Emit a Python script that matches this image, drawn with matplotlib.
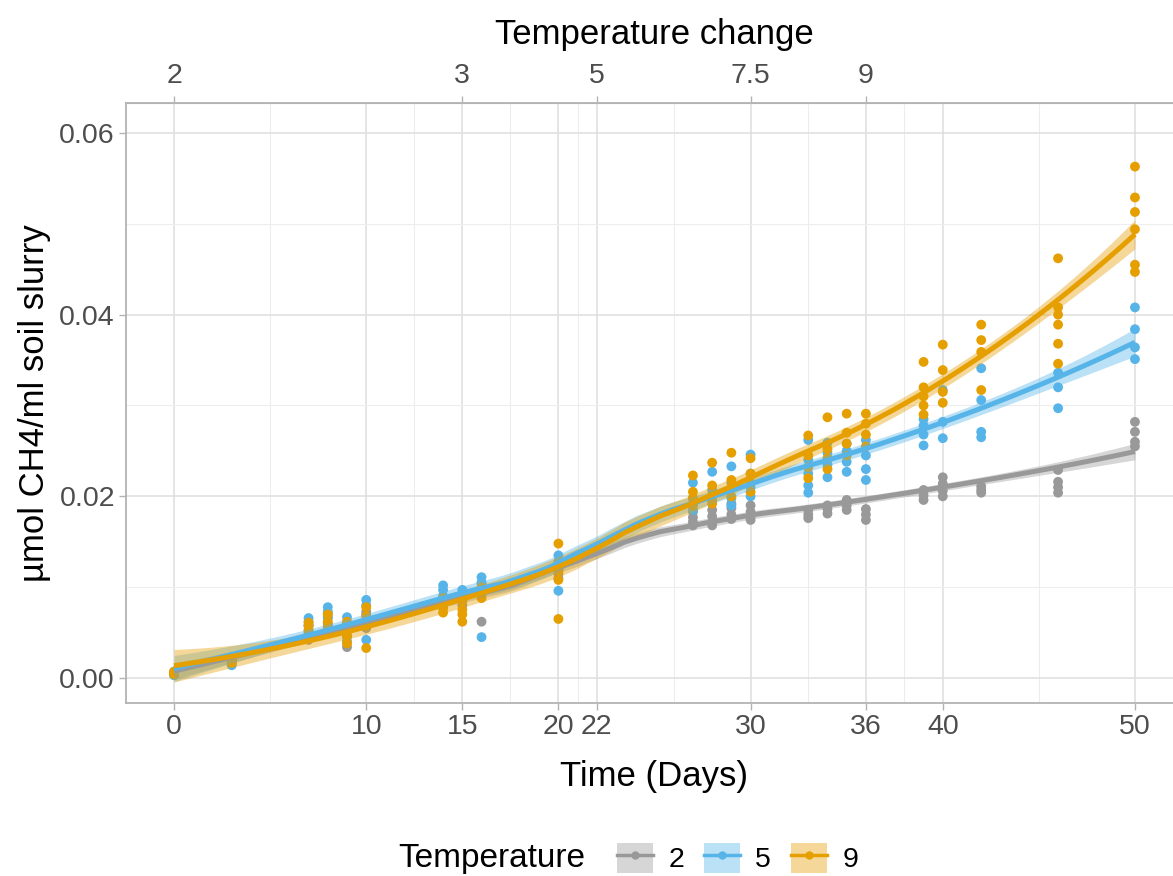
import numpy as np
import matplotlib.pyplot as plt
from matplotlib.lines import Line2D
from matplotlib.patches import Patch

plt.rcParams['font.family'] = ['Liberation Sans', 'DejaVu Sans']

# sampling days and measured values per temperature group (one list per day)
days = [0, 3, 7, 8, 9, 10, 14, 15, 16, 20, 27, 28, 29, 30, 33, 34, 35, 36, 39, 40, 42, 46, 50]

temp2 = [
    [0.0004, 0.0005, 0.0006, 0.0005],
    [0.0016, 0.0019, 0.0021],
    [0.0042, 0.0048, 0.0053, 0.0058],
    [0.0053, 0.0060, 0.0067, 0.0071],
    [0.0034, 0.0040, 0.0047, 0.0053],
    [0.0055, 0.0062, 0.0070, 0.0073],
    [0.0078, 0.0083, 0.0088],
    [0.0080, 0.0086, 0.0090],
    [0.0062, 0.0092, 0.0098, 0.0104],
    [0.0110, 0.0115, 0.0120, 0.0125],
    [0.0168, 0.0172, 0.0177, 0.0183],
    [0.0168, 0.0172, 0.0178, 0.0185],
    [0.0175, 0.0180, 0.0187, 0.0192],
    [0.0174, 0.0178, 0.0183, 0.0190],
    [0.0176, 0.0180, 0.0185],
    [0.0181, 0.0186, 0.0190],
    [0.0185, 0.0190, 0.0196],
    [0.0174, 0.0180, 0.0186],
    [0.0196, 0.0201, 0.0207],
    [0.0200, 0.0206, 0.0214, 0.0221],
    [0.0204, 0.0207, 0.0211],
    [0.0204, 0.0210, 0.0216, 0.0229],
    [0.0255, 0.0260, 0.0271, 0.0282],
]

temp5 = [
    [0.0003, 0.0005, 0.0007, 0.0006],
    [0.0014, 0.0018, 0.0020],
    [0.0050, 0.0058, 0.0062, 0.0066],
    [0.0058, 0.0066, 0.0073, 0.0078],
    [0.0045, 0.0052, 0.0060, 0.0067],
    [0.0042, 0.0060, 0.0080, 0.0086],
    [0.0085, 0.0090, 0.0097, 0.0102],
    [0.0085, 0.0092, 0.0097],
    [0.0045, 0.0095, 0.0105, 0.0111],
    [0.0096, 0.0120, 0.0128, 0.0135],
    [0.0185, 0.0192, 0.0198, 0.0215],
    [0.0195, 0.0200, 0.0207, 0.0227],
    [0.0190, 0.0198, 0.0215, 0.0233],
    [0.0200, 0.0210, 0.0225, 0.0246],
    [0.0204, 0.0212, 0.0225, 0.0240, 0.0262],
    [0.0221, 0.0235, 0.0248, 0.0259],
    [0.0227, 0.0238, 0.0250, 0.0258],
    [0.0218, 0.0230, 0.0245, 0.0262],
    [0.0256, 0.0268, 0.0278, 0.0285],
    [0.0264, 0.0282, 0.0317],
    [0.0265, 0.0271, 0.0306, 0.0341],
    [0.0297, 0.0320, 0.0336],
    [0.0351, 0.0364, 0.0384, 0.0408],
]

temp9 = [
    [0.0004, 0.0006, 0.0005, 0.0007],
    [0.0017, 0.0020, 0.0022],
    [0.0045, 0.0052, 0.0057, 0.0061],
    [0.0050, 0.0056, 0.0062, 0.0070],
    [0.0038, 0.0046, 0.0055, 0.0062],
    [0.0033, 0.0058, 0.0068, 0.0078],
    [0.0072, 0.0077, 0.0082, 0.0088],
    [0.0062, 0.0070, 0.0075, 0.0085],
    [0.0088, 0.0094, 0.0100],
    [0.0065, 0.0108, 0.0118, 0.0148],
    [0.0190, 0.0198, 0.0205, 0.0223],
    [0.0192, 0.0200, 0.0212, 0.0237],
    [0.0200, 0.0210, 0.0218, 0.0248],
    [0.0205, 0.0215, 0.0225, 0.0242],
    [0.0220, 0.0232, 0.0245, 0.0267],
    [0.0230, 0.0242, 0.0252, 0.0287],
    [0.0245, 0.0258, 0.0270, 0.0291],
    [0.0255, 0.0268, 0.0280, 0.0291],
    [0.0290, 0.0300, 0.0310, 0.0320, 0.0348],
    [0.0303, 0.0315, 0.0339, 0.0367],
    [0.0317, 0.0359, 0.0372, 0.0389],
    [0.0346, 0.0368, 0.0389, 0.0400, 0.0408, 0.0462],
    [0.0447, 0.0455, 0.0494, 0.0513, 0.0529, 0.0563],
]

group_names = ['2', '5', '9']
colors = ['#999999', '#56B4E9', '#E69F00']

x_major = [0, 10, 15, 20, 22, 30, 36, 40, 50]
x_minor = [5, 12.5, 17.5, 21, 26, 33, 38, 45]
top_pos = [0, 15, 22, 30, 36]
top_labels = ['2', '3', '5', '7.5', '9']
y_major = [0.00, 0.02, 0.04, 0.06]
y_minor = [0.01, 0.03, 0.05]


def flatten(vals):
    xs, ys = [], []
    for d, v in zip(days, vals):
        xs += [d] * len(v)
        ys += v
    return np.array(xs, float), np.array(ys, float)


def loess(x, y, grid, span=0.75):
    # local quadratic, tricube weights (like R's loess default)
    n = len(x)
    q = int(np.floor(n * span))

    def row(x0):
        d = np.abs(x - x0)
        h = np.sort(d)[q - 1]
        w = (1 - np.clip(d / h, 0, 1) ** 3) ** 3
        X = np.column_stack([np.ones(n), x - x0, (x - x0) ** 2])
        XtW = X.T * w
        return np.linalg.solve(XtW @ X, XtW)[0]

    L = np.array([row(x0) for x0 in x])
    resid = y - L @ y
    M = np.eye(n) - L
    MtM = M.T @ M
    d1 = np.trace(MtM)
    d2 = np.trace(MtM @ MtM)
    sigma = np.sqrt(resid @ resid / d1)
    tq = 1.96 + 2.4 / (d1 ** 2 / d2)
    Lg = np.array([row(x0) for x0 in grid])
    fit = Lg @ y
    se = sigma * np.sqrt((Lg ** 2).sum(axis=1))
    return fit, fit - tq * se, fit + tq * se


fig = plt.figure(figsize=(11.73, 8.76), dpi=100)
ax = fig.add_axes([126 / 1173, 1 - 703 / 876, (1183 - 126) / 1173, 600 / 876])

data = [flatten(v) for v in (temp2, temp5, temp9)]

for (xs, ys), c in zip(data, colors):
    ax.scatter(xs, ys, s=50, color=c, edgecolors='none', zorder=3)

grid = np.linspace(0, 50, 80)
for (xs, ys), c in zip(data, colors):
    fit, lo, hi = loess(xs, ys, grid)
    ax.fill_between(grid, lo, hi, color=c, alpha=0.4, lw=0, zorder=4)
    ax.plot(grid, fit, color=c, lw=3.6, zorder=5, solid_capstyle='butt')

ax.set_xlim(-2.5, 52.5)
ax.set_ylim(-0.00275, 0.0633)
ax.set_xticks(x_major)
ax.set_xticks(x_minor, minor=True)
ax.set_yticks(y_major, labels=['0.00', '0.02', '0.04', '0.06'])
ax.set_yticks(y_minor, minor=True)
ax.grid(which='major', color='#DEDEDE', lw=1.1)
ax.grid(which='minor', color='#EDEDED', lw=0.8)
ax.set_axisbelow(True)
for s in ax.spines.values():
    s.set_color('#B3B3B3')
    s.set_linewidth(1.3)
ax.tick_params(which='major', length=5, width=1, color='#B3B3B3',
               labelsize=20.5, labelcolor='#4D4D4D', pad=3)
ax.tick_params(which='minor', length=0)

ax.set_xlabel('Time (Days)', fontsize=25, labelpad=14)
ax.set_ylabel('µmol CH4/ml soil slurry', fontsize=25, labelpad=6)

sec = ax.secondary_xaxis('top')
sec.set_xticks(top_pos, labels=top_labels)
sec.tick_params(length=5, width=1, color='#B3B3B3', labelsize=20.5,
                labelcolor='#4D4D4D', pad=5)
sec.spines['top'].set_color('#B3B3B3')
sec.set_xlabel('Temperature change', fontsize=25, labelpad=14)

# legend at the bottom, title on the left like ggplot
fig.text(398 / 1173, 1 - 858 / 876, 'Temperature', fontsize=24,
         ha='left', va='center')
handles = [(Patch(facecolor=c, alpha=0.4, edgecolor='none'),
            Line2D([], [], color=c, lw=2.5, marker='o', ms=5))
           for c in colors]
fig.legend(handles, group_names, ncol=3, loc='center left',
           bbox_to_anchor=(617 / 1173, 1 - 858 / 876), frameon=False,
           fontsize=20.5, handlelength=1.25, handleheight=1.25,
           handletextpad=0.55, columnspacing=0.7, borderpad=0,
           borderaxespad=0)

fig.savefig('out.png', dpi=100)
